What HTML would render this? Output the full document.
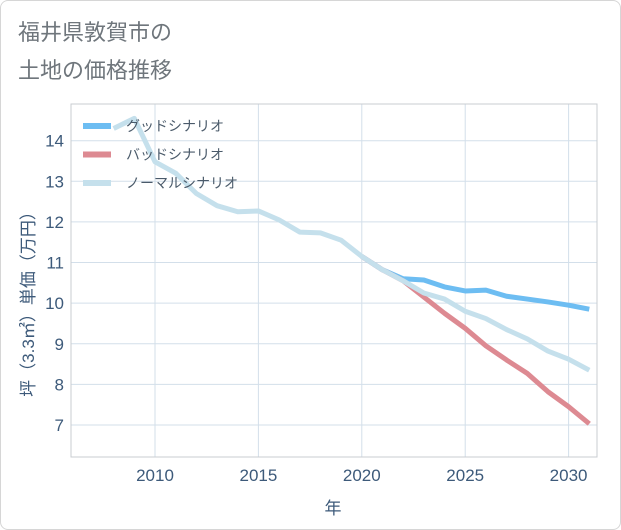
<!DOCTYPE html>
<html><head><meta charset="utf-8">
<style>
html,body{margin:0;padding:0;background:#fff;}
#card{position:absolute;left:0;top:0;width:619px;height:528px;border:1px solid #d6d6d6;border-radius:8px;background:#fff;overflow:hidden;}
.t{font-family:"Liberation Sans","Noto Sans CJK JP",sans-serif;}
</style></head>
<body>
<div id="card">
<svg id="svg" width="621" height="530" xmlns="http://www.w3.org/2000/svg" style="position:absolute;left:-1px;top:-1px">
<text class="t" x="18" y="40" font-size="22" fill="#6f767c">福井県敦賀市の</text>
<text class="t" x="18" y="78" font-size="22" fill="#6f767c">土地の価格推移</text>
<g id="grid"></g>
<g id="axes"></g>
<g id="series"></g>
<g id="legend"></g>
<text class="t" transform="translate(34,300) rotate(-90)" text-anchor="middle" font-size="17" fill="#3d5a7a">坪（3.3㎡）単価（万円）</text>
<text class="t" x="333" y="514" text-anchor="middle" font-size="17" fill="#3d5a7a">年</text>
</svg>
</div>
<script>
const normalYears = [2008,2009,2010,2011,2012,2013,2014,2015,2016,2017,2018,2019,2020,2021,2022,2023,2024,2025,2026,2027,2028,2029,2030,2031];
const normalValues = [14.3,14.55,13.48,13.2,12.7,12.4,12.25,12.27,12.05,11.75,11.73,11.55,11.15,10.82,10.55,10.25,10.1,9.8,9.62,9.35,9.12,8.82,8.62,8.35];
const goodYears = [2020,2021,2022,2023,2024,2025,2026,2027,2028,2029,2030,2031];
const goodValues = [11.15,10.82,10.6,10.57,10.4,10.3,10.32,10.17,10.1,10.03,9.95,9.85];
const badYears = [2020,2021,2022,2023,2024,2025,2026,2027,2028,2029,2030,2031];
const badValues = [11.15,10.82,10.55,10.15,9.75,9.38,8.95,8.6,8.27,7.82,7.45,7.03];
const xTicks = [2010,2015,2020,2025,2030];
const yTicks = [7,8,9,10,11,12,13,14];
const legendLabels = ["グッドシナリオ","バッドシナリオ","ノーマルシナリオ"];

const L=71,R=597,T=104,B=457;
function sx(y){return 155+(y-2010)*20.68;}
function sy(v){return 140.7+(14-v)*40.61;}
const NS="http://www.w3.org/2000/svg";
function mk(tag,parent){const e=document.createElementNS(NS,tag);parent.appendChild(e);return e;}
const grid=document.getElementById('grid'),axes=document.getElementById('axes'),ser=document.getElementById('series'),leg=document.getElementById('legend');

yTicks.forEach(v=>{
  const l=mk('line',grid);
  
  
  l.setAttribute('x1',L);l.setAttribute('x2',R);l.setAttribute('y1',sy(v));l.setAttribute('y2',sy(v));
  l.setAttribute('stroke','#d3dfea');l.setAttribute('stroke-width','1');
  const t=mk('text',axes);
  
  
  t.setAttribute('class','t');t.setAttribute('x',64);t.setAttribute('y',sy(v)+6);
  t.setAttribute('text-anchor','end');t.setAttribute('font-size','17');t.setAttribute('fill','#3d5a7a');
  t.textContent=v;
});
xTicks.forEach(y=>{
  const l=mk('line',grid);
  
  
  l.setAttribute('x1',sx(y));l.setAttribute('x2',sx(y));l.setAttribute('y1',T);l.setAttribute('y2',B);
  l.setAttribute('stroke','#d3dfea');l.setAttribute('stroke-width','1');
  const t=mk('text',axes);
  
  
  t.setAttribute('class','t');t.setAttribute('x',sx(y));t.setAttribute('y',481);
  t.setAttribute('text-anchor','middle');t.setAttribute('font-size','17');t.setAttribute('fill','#3d5a7a');
  t.textContent=y;
});
const fr=mk('rect',axes);


fr.setAttribute('x',L);fr.setAttribute('y',T);fr.setAttribute('width',R-L);fr.setAttribute('height',B-T);
fr.setAttribute('fill','none');fr.setAttribute('stroke','#c9ccd1');fr.setAttribute('stroke-width','1');

function line(xs,vs,color,name){
  const p=mk('polyline',ser);
  
  
  p.setAttribute('points',xs.map((x,i)=>sx(x)+','+sy(vs[i])).join(' '));
  p.setAttribute('fill','none');p.setAttribute('stroke',color);p.setAttribute('stroke-width','5');
  p.setAttribute('stroke-linejoin','round');
}
line(goodYears,goodValues,'#6dbdf2','good-scenario-line');
line(badYears,badValues,'#dd8a92','bad-scenario-line');
line(normalYears,normalValues,'#c5e0ec','normal-scenario-line');

const legColors=['#6dbdf2','#dd8a92','#c5e0ec'];
legendLabels.forEach((s,i)=>{
  const y=126+i*28.5;
  const r=mk('rect',leg);
  
  
  r.setAttribute('x',83);r.setAttribute('y',y-3);r.setAttribute('width',28);r.setAttribute('height',6);r.setAttribute('fill',legColors[i]);
  const t=mk('text',leg);
  
  
  t.setAttribute('class','t');t.setAttribute('x',126);t.setAttribute('y',y+5);
  t.setAttribute('font-size','14');t.setAttribute('fill','#4a5a6a');
  t.textContent=s;
});
</script>
</body></html>
